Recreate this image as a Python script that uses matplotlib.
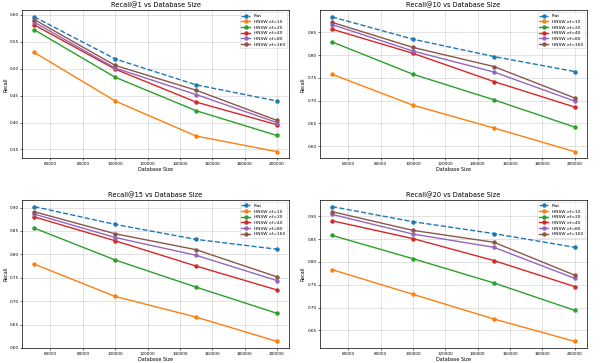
import matplotlib
matplotlib.use("Agg")
import matplotlib.pyplot as plt

sizes = [50000, 100000, 150000, 200000]
series_names = ["Flat", "HNSW ef=10", "HNSW ef=20", "HNSW ef=40", "HNSW ef=80", "HNSW ef=160"]

recall1 = {
    "Flat": [0.596, 0.518, 0.470, 0.440],
    "HNSW ef=10": [0.530, 0.440, 0.375, 0.346],
    "HNSW ef=20": [0.572, 0.484, 0.422, 0.376],
    "HNSW ef=40": [0.581, 0.499, 0.438, 0.396],
    "HNSW ef=80": [0.586, 0.501, 0.452, 0.400],
    "HNSW ef=160": [0.591, 0.506, 0.460, 0.404],
}
recall10 = {
    "Flat": [0.884, 0.835, 0.797, 0.764],
    "HNSW ef=10": [0.758, 0.690, 0.640, 0.588],
    "HNSW ef=20": [0.829, 0.758, 0.702, 0.642],
    "HNSW ef=40": [0.857, 0.804, 0.742, 0.686],
    "HNSW ef=80": [0.867, 0.809, 0.763, 0.699],
    "HNSW ef=160": [0.872, 0.817, 0.775, 0.706],
}
recall15 = {
    "Flat": [0.902, 0.864, 0.832, 0.811],
    "HNSW ef=10": [0.779, 0.710, 0.666, 0.614],
    "HNSW ef=20": [0.856, 0.788, 0.730, 0.674],
    "HNSW ef=40": [0.880, 0.829, 0.775, 0.724],
    "HNSW ef=80": [0.886, 0.836, 0.798, 0.744],
    "HNSW ef=160": [0.891, 0.844, 0.810, 0.752],
}
recall20 = {
    "Flat": [0.921, 0.888, 0.862, 0.832],
    "HNSW ef=10": [0.783, 0.729, 0.675, 0.626],
    "HNSW ef=20": [0.858, 0.807, 0.754, 0.694],
    "HNSW ef=40": [0.890, 0.851, 0.803, 0.746],
    "HNSW ef=80": [0.904, 0.861, 0.832, 0.764],
    "HNSW ef=160": [0.910, 0.869, 0.843, 0.771],
}
panels = [("Recall@1 vs Database Size", recall1),
          ("Recall@10 vs Database Size", recall10),
          ("Recall@15 vs Database Size", recall15),
          ("Recall@20 vs Database Size", recall20)]

colors = ["#1f77b4", "#ff7f0e", "#2ca02c", "#d62728", "#9467bd", "#8c564b"]

fig, axes = plt.subplots(2, 2, figsize=(6, 3.63), dpi=100)
fig.subplots_adjust(left=0.037, right=0.978, top=0.972, bottom=0.041, wspace=0.116, hspace=0.28)

for ax, (title, data) in zip(axes.flat, panels):
    for name, c in zip(series_names, colors):
        ls = "--" if name == "Flat" else "-"
        ax.plot(sizes, data[name], ls, color=c, marker="o", markersize=2.2,
                linewidth=1.0, label=name)
    ax.set_title(title, fontsize=4.8, pad=2)
    ax.set_xlabel("Database Size", fontsize=3.5, labelpad=1)
    ax.set_ylabel("Recall", fontsize=3.5, labelpad=1)
    ax.tick_params(labelsize=3, length=1.5, width=0.4, pad=1)
    ax.grid(True, alpha=0.5, linewidth=0.5)
    for s in ax.spines.values():
        s.set_linewidth(0.5)
    ax.legend(fontsize=3.2, loc="upper right", frameon=True, framealpha=0.8,
              handlelength=2, borderpad=0.4, labelspacing=0.35).get_frame().set_linewidth(0.4)

fig.savefig("out.png", dpi=100)
